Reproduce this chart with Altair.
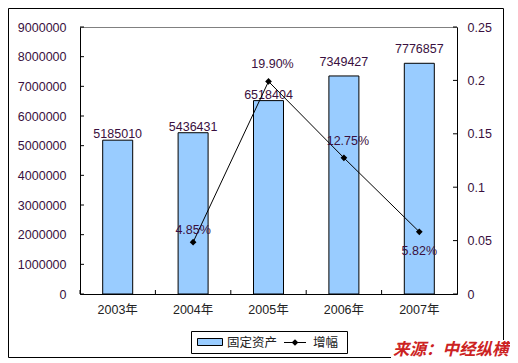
import altair as alt
import pandas as pd

# ---- data ----
years = ["2003年", "2004年", "2005年", "2006年", "2007年"]
assets = [5185010, 5436431, 6518404, 7349427, 7776857]
growth = [None, 0.0485, 0.199, 0.1275, 0.0582]
left_ticks = [0, 1000000, 2000000, 3000000, 4000000, 5000000, 6000000, 7000000, 8000000, 9000000]
right_ticks = [0, 0.05, 0.1, 0.15, 0.2, 0.25]
legend_labels = ["固定资产", "增幅"]
source_text = "来源：中经纵横"

W, H = 377, 267
NUM = "Liberation Sans, Arial, sans-serif"
CJK = "Liberation Sans, Noto Sans CJK SC, sans-serif"
NUMCOL = "#3a1040"
TXT = "#222222"

df = pd.DataFrame({"year": years, "assets": assets, "growth": growth})
gdf = df.dropna().reset_index(drop=True)
one = pd.DataFrame({"k": [0]})

xscale = alt.Scale(paddingInner=0, paddingOuter=0)
xaxis = alt.Axis(title=None, labelAngle=0, ticks=False, tickSize=0, labelPadding=9,
                 labelFont=CJK, labelFontSize=12.5, labelColor=TXT,
                 domainColor="black", grid=False)
xenc = alt.X("year:N", sort=years, scale=xscale, axis=xaxis)

yL = alt.Scale(domain=[0, 9000000], nice=False, zero=True)
yLaxis = alt.Axis(title=None, values=left_ticks, format="d", ticks=False, tickSize=0,
                  labelPadding=14, grid=False, domainColor="black", labelColor=NUMCOL,
                  labelFont=NUM, labelFontSize=12.5)
yR = alt.Scale(domain=[0, 0.25], nice=False, zero=True)
yRaxis = alt.Axis(title=None, values=right_ticks, format="~g", ticks=False, tickSize=0,
                  labelPadding=10, grid=False, domainColor="black", labelColor=NUMCOL,
                  labelFont=NUM, labelFontSize=12.5, orient="right")

# ---- left group (bars) ----
bars = alt.Chart(df).mark_bar(size=30, color="#99CCFF", stroke="black", strokeWidth=1).encode(
    x=xenc, y=alt.Y("assets:Q", scale=yL, axis=yLaxis))
late = (alt.datum.year == "2006年") | (alt.datum.year == "2007年")
bar_labels_a = alt.Chart(df).transform_filter(~late).mark_text(
    dy=-6, baseline="middle", font=NUM, fontSize=12.5, color=NUMCOL).encode(
    x=xenc, y=alt.Y("assets:Q", scale=yL, axis=yLaxis),
    text=alt.Text("assets:Q", format="d"))
bar_labels_b = alt.Chart(df).transform_filter(late).mark_text(
    dy=-14, baseline="middle", font=NUM, fontSize=12.5, color=NUMCOL).encode(
    x=xenc, y=alt.Y("assets:Q", scale=yL, axis=yLaxis),
    text=alt.Text("assets:Q", format="d"))
lticks = alt.Chart(pd.DataFrame({"assets": left_ticks})).mark_rule(color="black").encode(
    y=alt.Y("assets:Q", scale=yL, axis=yLaxis), x=alt.value(0), x2=alt.value(4))
xticks = alt.Chart(df).mark_rule(color="black").encode(
    x=alt.X("year:N", sort=years, scale=xscale, axis=xaxis, bandPosition=0),
    y=alt.value(H - 4), y2=alt.value(H))
left = alt.layer(bars, bar_labels_a, bar_labels_b, lticks, xticks)

# ---- right group (growth line) ----
line = alt.Chart(gdf).mark_line(color="black", strokeWidth=1).encode(
    x=xenc, y=alt.Y("growth:Q", scale=yR, axis=yRaxis))
pts = alt.Chart(gdf).mark_point(shape="diamond", filled=True, color="black", size=45,
                                opacity=1).encode(
    x=xenc, y=alt.Y("growth:Q", scale=yR, axis=yRaxis))
mid = (alt.datum.year == "2005年") | (alt.datum.year == "2006年")
glab_a = alt.Chart(gdf).transform_filter(alt.datum.year == "2004年").mark_text(
    dy=-12, baseline="middle", font=NUM, fontSize=12.5, color=NUMCOL).encode(
    x=xenc, y=alt.Y("growth:Q", scale=yR, axis=yRaxis),
    text=alt.Text("growth:Q", format=".2%"))
glab_b = alt.Chart(gdf).transform_filter(mid).mark_text(
    dy=-17, dx=4, baseline="middle", font=NUM, fontSize=12.5, color=NUMCOL).encode(
    x=xenc, y=alt.Y("growth:Q", scale=yR, axis=yRaxis),
    text=alt.Text("growth:Q", format=".2%"))
glab_c = alt.Chart(gdf).transform_filter(alt.datum.year == "2007年").mark_text(
    dy=19, baseline="middle", font=NUM, fontSize=12.5, color=NUMCOL).encode(
    x=xenc, y=alt.Y("growth:Q", scale=yR, axis=yRaxis),
    text=alt.Text("growth:Q", format=".2%"))
rticks = alt.Chart(pd.DataFrame({"growth": right_ticks})).mark_rule(color="black").encode(
    y=alt.Y("growth:Q", scale=yR, axis=yRaxis), x=alt.value(W - 4), x2=alt.value(W))
right = alt.layer(line, pts, glab_a, glab_b, glab_c, rticks)

# ---- frame, legend, source ----
border = alt.Chart(one).mark_rect(fill="white", fillOpacity=0, stroke="black",
                                  strokeWidth=1).encode(
    x=alt.value(-71.5), x2=alt.value(423.5), y=alt.value(-18.5), y2=alt.value(330.5))
leg_box = alt.Chart(one).mark_rect(fill="white", stroke="black", strokeWidth=1).encode(
    x=alt.value(111.5), x2=alt.value(267.5), y=alt.value(304.5), y2=alt.value(326.5))
leg_sw = alt.Chart(one).mark_rect(fill="#99CCFF", stroke="black", strokeWidth=1).encode(
    x=alt.value(117.5), x2=alt.value(142.5), y=alt.value(311.5), y2=alt.value(318.5))
leg_t1 = alt.Chart(one).mark_text(align="left", baseline="middle", font=CJK, fontSize=12.5,
                                  color=TXT).encode(
    x=alt.value(147), y=alt.value(315.5), text=alt.value(legend_labels[0]))
leg_ln = alt.Chart(one).mark_rule(color="black", strokeWidth=1).encode(
    x=alt.value(204), x2=alt.value(226), y=alt.value(315.5))
leg_pt = alt.Chart(one).mark_point(shape="diamond", filled=True, color="black", size=45,
                                   opacity=1).encode(x=alt.value(215), y=alt.value(315.5))
leg_t2 = alt.Chart(one).mark_text(align="left", baseline="middle", font=CJK, fontSize=12.5,
                                  color=TXT).encode(
    x=alt.value(233), y=alt.value(315.5), text=alt.value(legend_labels[1]))
src_bg = alt.Chart(one).mark_rect(fill="white").encode(
    x=alt.value(311), x2=alt.value(432), y=alt.value(313), y2=alt.value(340))
src = alt.Chart(one).mark_text(align="left", baseline="middle", font="Noto Sans CJK SC",
                               fontSize=16.5, fontWeight="bold", fontStyle="italic",
                               color="#CC2222").encode(
    x=alt.value(313), y=alt.value(323), text=alt.value(source_text))

chart = alt.layer(border, left, right, leg_box, leg_sw, leg_t1, leg_ln, leg_pt, leg_t2,
                  src_bg, src).resolve_scale(y="independent").properties(
    width=W, height=H,
    autosize=alt.AutoSizeParams(type="none"),
    padding={"left": 72, "top": 19, "right": 53, "bottom": 69},
).configure_view(stroke="#808080", strokeWidth=1)

chart.save("out.html", embed_options={"renderer": "svg", "actions": False})
